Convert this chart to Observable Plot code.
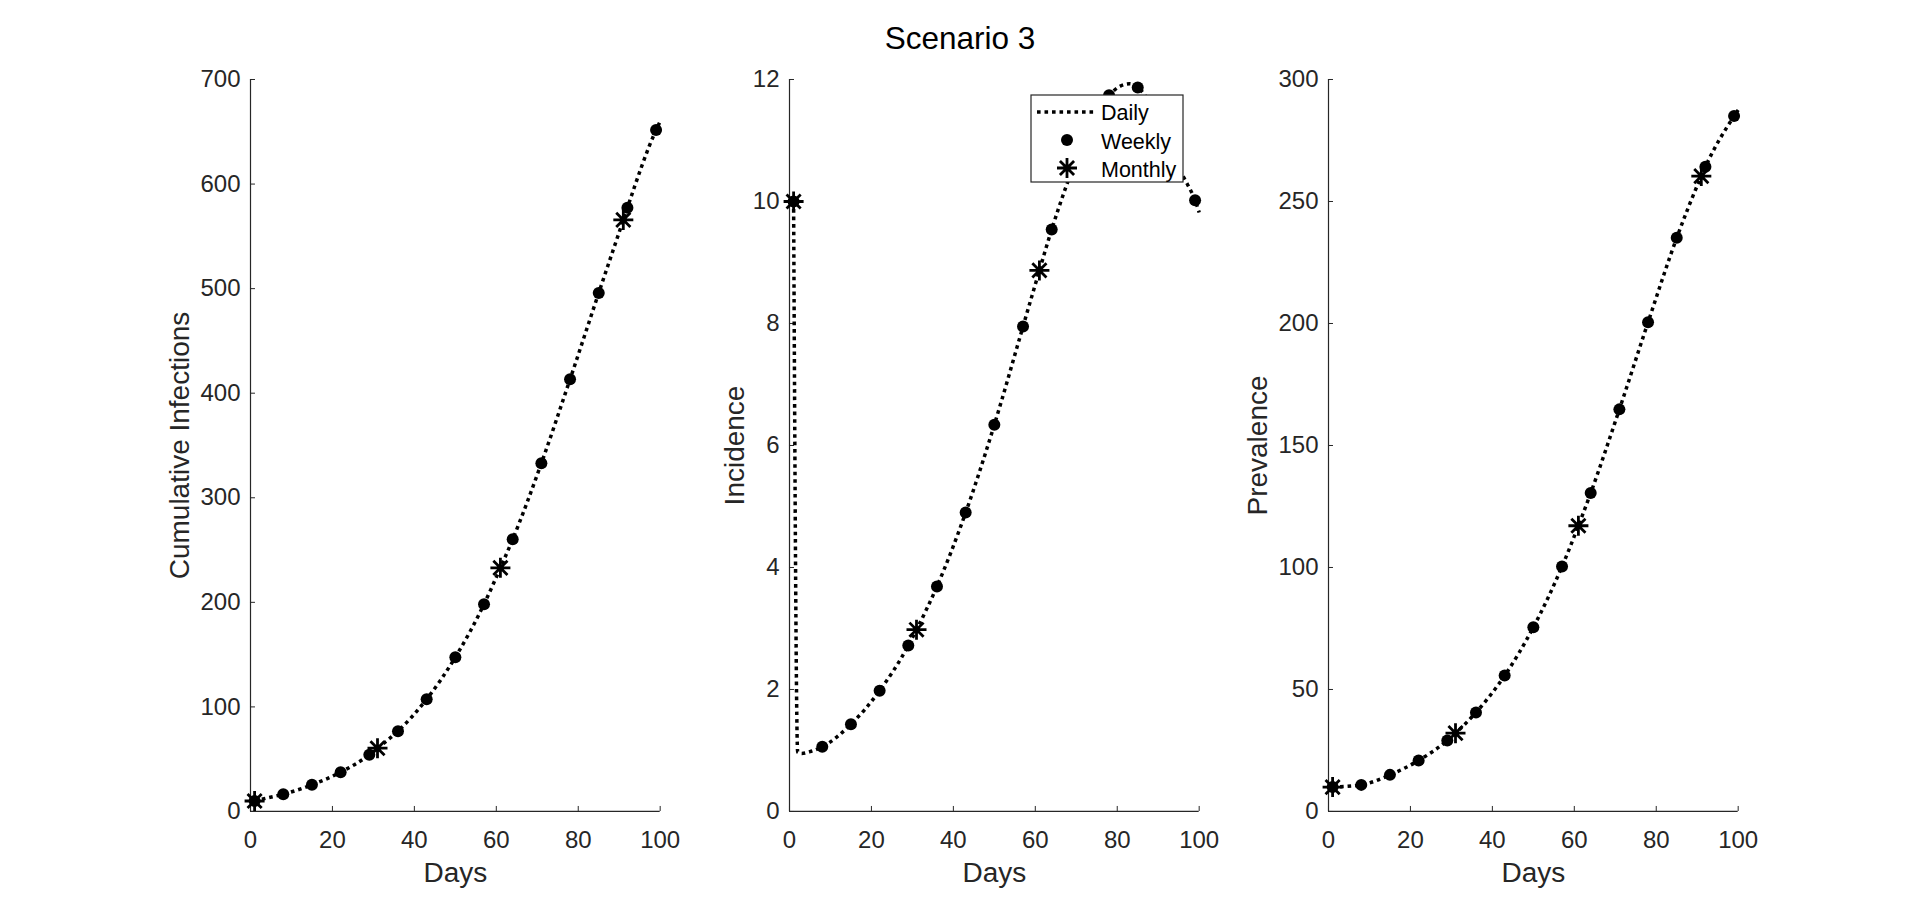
<!DOCTYPE html>
<html>
<head>
<meta charset="utf-8">
<script src="https://cdn.jsdelivr.net/npm/d3@7"></script>
<script src="https://cdn.jsdelivr.net/npm/@observablehq/plot@0.6"></script>
<style>
  html, body { margin: 0; padding: 0; background: #fff; }
  #fig { position: relative; width: 1920px; height: 911px; overflow: hidden; background: #fff;
         font-family: "Liberation Sans", Arial, Helvetica, sans-serif; }
  #title { position: absolute; left: 0; width: 1920px; top: 22.5px; text-align: center;
           font-size: 31.5px; line-height: 31.5px; color: #000; }
  #legend { position: absolute; }
</style>
</head>
<body>
<div id="fig"><div id="title">Scenario 3</div></div>
<script>
// ---------------- data ----------------
const xTicks = [0, 20, 40, 60, 80, 100];
const cumTicks = [0, 100, 200, 300, 400, 500, 600, 700];
const incTicks = [0, 2, 4, 6, 8, 10, 12];
const prevTicks = [0, 50, 100, 150, 200, 250, 300];

const panelLabels = ["Cumulative Infections", "Incidence", "Prevalence"];
const xLabel = "Days";
const legendLabels = ["Daily", "Weekly", "Monthly"];

// Daily series
const cumDailyDays = [1, 2, 4, 8, 15, 22, 29, 31, 36, 43, 50, 57, 61, 64, 71, 78, 85, 91, 92, 99, 100];
const cumDaily     = [10, 11, 12.9, 16.5, 25.5, 37.6, 54.2, 60.5, 76.8, 107.4, 147.5, 198.2, 233, 260.3, 333, 413.3, 495.9, 565.7, 577.4, 651.7, 660];

const incDailyDays = [1, 2, 3, 5, 8, 15, 22, 29, 31, 36, 43, 50, 57, 61, 64, 71, 78, 83, 85, 88, 91, 92, 94, 97, 99, 100];
const incDaily     = [10, 0.97, 0.95, 0.98, 1.06, 1.43, 1.98, 2.72, 2.98, 3.69, 4.90, 6.34, 7.95, 8.87, 9.54, 10.85, 11.74, 11.93, 11.87, 11.6, 11.1, 10.95, 10.65, 10.3, 10.02, 9.82];

const prevDailyDays = [1, 8, 15, 22, 29, 31, 36, 43, 50, 57, 61, 64, 71, 78, 85, 91, 92, 99, 100];
const prevDaily     = [10, 10.9, 15.0, 20.9, 29.1, 32.1, 40.6, 55.7, 75.5, 100.4, 117.1, 130.5, 164.8, 200.5, 235.1, 260.4, 264.2, 285, 287.5];

// Weekly series
const weeklyDays = [1, 8, 15, 22, 29, 36, 43, 50, 57, 64, 71, 78, 85, 92, 99];
const cumWeekly  = [10, 16.5, 25.5, 37.6, 54.2, 76.8, 107.4, 147.5, 198.2, 260.3, 333, 413.3, 495.9, 577.4, 651.7];
const incWeekly  = [10, 1.06, 1.43, 1.98, 2.72, 3.69, 4.90, 6.34, 7.95, 9.54, 10.85, 11.74, 11.87, 10.95, 10.02];
const prevWeekly = [10, 10.9, 15.0, 20.9, 29.1, 40.6, 55.7, 75.5, 100.4, 130.5, 164.8, 200.5, 235.1, 264.2, 285];

// Monthly series
const monthlyDays = [1, 31, 61, 91];
const cumMonthly  = [10, 60.5, 233, 565.7];
const incMonthly  = [10, 2.98, 8.87, 11.1];
const prevMonthly = [10, 32.1, 117.1, 260.4];

// ---------------- layout / style ----------------
const FONT = '"Liberation Sans", Arial, Helvetica, sans-serif';
const AX = "#262626";
const ML = 120, MR = 40, PW = 409.7, MT = 79, MB = 100, H = 911;
const DASH = "3.6,3.9";
const LW = 3.5;
const DOT_R = 6;
const STAR_R = 10;
const STAR_W = 2.8;
const TICK_FS = "24px";
const LABEL_FS = 28;

// MATLAB-style "*" marker (plus + cross)
const asterisk = {
  draw(ctx, size) {
    const r = Math.sqrt(size / Math.PI);
    const d = r * Math.SQRT1_2;
    ctx.moveTo(-r, 0); ctx.lineTo(r, 0);
    ctx.moveTo(0, -r); ctx.lineTo(0, r);
    ctx.moveTo(-d, -d); ctx.lineTo(d, d);
    ctx.moveTo(-d, d); ctx.lineTo(d, -d);
  }
};

const fig = document.getElementById("fig");
const rows = (days, vals) => days.map((d, i) => ({day: d, value: vals[i]}));

function panel(cfg) {
  const svg = Plot.plot({
    width: ML + PW + MR, height: H,
    marginLeft: ML, marginRight: MR, marginTop: MT, marginBottom: MB,
    style: {fontFamily: FONT, fontSize: TICK_FS, color: AX, background: "transparent", overflow: "visible"},
    x: {domain: [0, 100]},
    y: {domain: cfg.yDomain},
    marks: [
      Plot.axisX({ticks: xTicks, tickSize: -5, tickPadding: 24, tickFormat: d => String(d), label: null, stroke: AX, fill: AX}),
      Plot.axisY({ticks: cfg.yTicks, tickSize: -5, tickPadding: 15, tickFormat: d => String(d), label: null, stroke: AX, fill: AX}),
      Plot.ruleX([0], {stroke: AX, strokeWidth: 1.2}),
      Plot.ruleY([cfg.yDomain[0]], {stroke: AX, strokeWidth: 1.2}),
      Plot.text([xLabel], {frameAnchor: "bottom", dy: 71, lineAnchor: "bottom", textAnchor: "middle", fontSize: LABEL_FS, fill: AX}),
      Plot.text([cfg.yLabel], {frameAnchor: "left", rotate: -90, dx: cfg.labelDx, lineAnchor: "bottom", textAnchor: "middle", fontSize: LABEL_FS, fill: AX}),
      Plot.line(rows(cfg.dailyDays, cfg.daily), {x: "day", y: "value", curve: "monotone-x", stroke: "black",
        strokeWidth: LW, strokeDasharray: DASH, strokeLinecap: "butt"}),
      Plot.dot(rows(weeklyDays, cfg.weekly), {x: "day", y: "value", r: DOT_R, fill: "black", stroke: "none"}),
      Plot.dot(rows(monthlyDays, cfg.monthly), {x: "day", y: "value", r: STAR_R, symbol: asterisk, fill: "none",
        stroke: "black", strokeWidth: STAR_W})
    ]
  });
  svg.style.position = "absolute";
  svg.style.left = (cfg.left - ML) + "px";
  svg.style.top = "0px";
  svg.style.maxWidth = "none";
  fig.appendChild(svg);
}

panel({left: 249.6, yDomain: [0, 700], yTicks: cumTicks, yLabel: panelLabels[0], labelDx: -62,
       dailyDays: cumDailyDays, daily: cumDaily, weekly: cumWeekly, monthly: cumMonthly});
panel({left: 788.7, yDomain: [0, 12], yTicks: incTicks, yLabel: panelLabels[1], labelDx: -46,
       dailyDays: incDailyDays, daily: incDaily, weekly: incWeekly, monthly: incMonthly});
panel({left: 1327.9, yDomain: [0, 300], yTicks: prevTicks, yLabel: panelLabels[2], labelDx: -62,
       dailyDays: prevDailyDays, daily: prevDaily, weekly: prevWeekly, monthly: prevMonthly});

// ---------------- legend (over the middle panel) ----------------
const NS = "http://www.w3.org/2000/svg";
const lg = document.createElementNS(NS, "svg");
lg.setAttribute("id", "legend");
lg.setAttribute("width", 154);
lg.setAttribute("height", 89);
lg.style.left = "1030px";
lg.style.top = "94px";
function el(name, attrs, text) {
  const e = document.createElementNS(NS, name);
  for (const k in attrs) e.setAttribute(k, attrs[k]);
  if (text) e.textContent = text;
  lg.appendChild(e);
  return e;
}
el("rect", {x: 1, y: 1, width: 152, height: 87, fill: "#fff", stroke: AX, "stroke-width": 1.2});
el("line", {x1: 7, x2: 65, y1: 18, y2: 18, stroke: "#000", "stroke-width": LW, "stroke-dasharray": DASH});
el("circle", {cx: 37, cy: 46, r: DOT_R, fill: "#000"});
const s = STAR_R, d = s * Math.SQRT1_2, cx = 37, cy = 74;
el("path", {d: `M${cx - s},${cy}H${cx + s}M${cx},${cy - s}V${cy + s}M${cx - d},${cy - d}L${cx + d},${cy + d}M${cx - d},${cy + d}L${cx + d},${cy - d}`,
            stroke: "#000", "stroke-width": STAR_W, fill: "none"});
const ty = [26, 54.5, 83];
legendLabels.forEach((t, i) => el("text", {x: 71, y: ty[i], "font-size": 21.5, "font-family": FONT, fill: "#000"}, t));
fig.appendChild(lg);
</script>
</body>
</html>
